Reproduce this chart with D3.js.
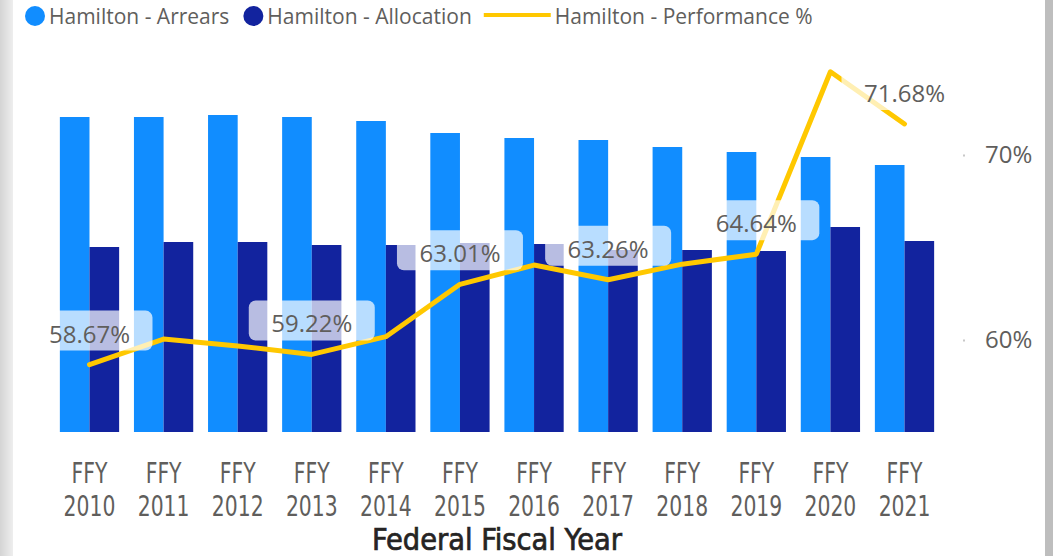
<!DOCTYPE html>
<html>
<head>
<meta charset="utf-8">
<script src="https://cdn.jsdelivr.net/npm/d3@7"></script>
<style>
  body { margin: 0; background: #fff; overflow: hidden; }
  svg text { font-family: 'Open Sans', 'Noto Sans', sans-serif; }
</style>
</head>
<body>
<svg id="chart" width="1053" height="556"></svg>
<script>
// Hamilton arrears / allocation / performance by FFY
var years = ['2010', '2011', '2012', '2013', '2014', '2015', '2016', '2017', '2018', '2019', '2020', '2021'];
var arrears = [31.5, 31.5, 31.7, 31.5, 31.1, 29.9, 29.4, 29.2, 28.5, 28.0, 27.5, 26.7];
var allocation = [18.5, 19.0, 19.0, 18.7, 18.7, 18.9, 18.8, 18.2, 18.2, 18.1, 20.5, 19.1];
var performance = [58.67, 60.05, 59.68, 59.22, 60.18, 63.01, 64.05, 63.26, 64.1, 64.64, 74.5, 71.68];
var labelledYears = ['2010', '2013', '2015', '2017', '2019', '2021'];
var perfTicks = [60, 70];
var seriesNames = ['Hamilton - Arrears', 'Hamilton - Allocation', 'Hamilton - Performance %'];
var seriesColors = ['#118dff', '#12239e', '#ffc800'];

var svg = d3.select('#chart');
var width = 1053, height = 556;
var narrowFont = "'Liberation Sans Narrow', 'DejaVu Sans Condensed', sans-serif";

// frame bits: soft shadow on the left, grey bar on the right
var defs = svg.append('defs');
var grad = defs.append('linearGradient').attr('id', 'leftShade');
grad.append('stop').attr('offset', '0%').attr('stop-color', '#d4d4d4');
grad.append('stop').attr('offset', '100%').attr('stop-color', '#eeeeee');
svg.append('rect').attr('x', 0).attr('y', 0).attr('width', 13).attr('height', height).attr('fill', 'url(#leftShade)');
svg.append('rect').attr('x', 1045).attr('y', 0).attr('width', 8).attr('height', height).attr('fill', '#bebebe');

var baseY = 432;

var x = d3.scaleBand().domain(years).range([52.45, 941.55]).paddingInner(0.2).paddingOuter(0.1);
var xSub = d3.scaleBand().domain([0, 1]).range([0, x.bandwidth()]);
var yBar = d3.scaleLinear().domain([0, 35]).range([baseY, 82]);
var yPerf = d3.scaleLinear().domain([55, 75]).range([432.5, 62.5]);

// bars
var groups = svg.append('g').selectAll('g')
  .data(years)
  .join('g')
  .attr('transform', function(d) { return 'translate(' + x(d) + ',0)'; });

groups.append('rect')
  .attr('x', xSub(0))
  .attr('width', xSub.bandwidth())
  .attr('y', function(d, i) { return yBar(arrears[i]); })
  .attr('height', function(d, i) { return baseY - yBar(arrears[i]); })
  .attr('fill', seriesColors[0]);

groups.append('rect')
  .attr('x', xSub(1))
  .attr('width', xSub.bandwidth())
  .attr('y', function(d, i) { return yBar(allocation[i]); })
  .attr('height', function(d, i) { return baseY - yBar(allocation[i]); })
  .attr('fill', seriesColors[1]);

// performance line
var cx = function(d) { return x(d) + x.bandwidth() / 2; };
var line = d3.line()
  .x(function(d, i) { return cx(years[i]); })
  .y(function(d) { return yPerf(d); });

svg.append('path')
  .datum(performance)
  .attr('d', line)
  .attr('fill', 'none')
  .attr('stroke', seriesColors[2])
  .attr('stroke-width', 5)
  .attr('stroke-linejoin', 'round')
  .attr('stroke-linecap', 'round');

// data labels with translucent boxes
var labelData = years.map(function(y, i) { return { year: y, v: performance[i] }; })
  .filter(function(d) { return labelledYears.indexOf(d.year) >= 0; });

var lbl = svg.append('g').selectAll('g')
  .data(labelData)
  .join('g')
  .attr('transform', function(d) { return 'translate(' + cx(d.year) + ',' + (yPerf(d.v) - 14) + ')'; });

lbl.append('rect')
  .attr('x', -63).attr('y', -40)
  .attr('width', 126).attr('height', 40)
  .attr('rx', 7)
  .attr('fill', '#ffffff')
  .attr('fill-opacity', 0.7);

lbl.append('text')
  .attr('text-anchor', 'middle')
  .attr('y', -8)
  .attr('fill', '#605e5c')
  .style('font-size', '24px')
  .text(function(d) { return d.v.toFixed(2) + '%'; });

// right axis
var yAxis = d3.axisRight(yPerf)
  .tickValues(perfTicks)
  .tickSize(2)
  .tickPadding(20)
  .tickFormat(function(d) { return d + '%'; });

var ya = svg.append('g').attr('transform', 'translate(963,0)').call(yAxis);
ya.select('.domain').remove();
ya.selectAll('.tick line').attr('stroke', '#c8c8c8').attr('stroke-width', 2);
ya.selectAll('.tick text')
  .attr('fill', '#605e5c')
  .style('font-size', '24px')
  .style('font-family', "'Open Sans', sans-serif");

// bottom axis, two lines per tick (narrowed to mimic DIN)
var xAxis = d3.axisBottom(x).tickSize(0).tickFormat('');
var xa = svg.append('g').attr('transform', 'translate(0,' + baseY + ')').call(xAxis);
xa.select('.domain').remove();
xa.selectAll('.tick text').remove();
var tickTxt = xa.selectAll('.tick').append('text')
  .attr('text-anchor', 'middle')
  .attr('transform', 'scale(0.78,1)')
  .attr('fill', '#605e5c')
  .style('font-family', narrowFont)
  .style('font-size', '29px');
tickTxt.append('tspan').attr('x', 0).attr('y', 51).text('FFY');
tickTxt.append('tspan').attr('x', 0).attr('y', 84).text(function(d) { return d; });

svg.append('g')
  .attr('transform', 'translate(' + (cx('2015') + 37) + ',550) scale(0.98,1)')
  .append('text')
  .attr('text-anchor', 'middle')
  .attr('fill', '#252423')
  .attr('stroke', '#252423')
  .attr('stroke-width', 0.7)
  .style('font-family', narrowFont)
  .style('font-size', '31px')
  .text('Federal Fiscal Year');

// legend
var legend = svg.append('g');
var lx = 25;
seriesNames.forEach(function(name, i) {
  if (i < 2) {
    legend.append('circle').attr('cx', lx + 10).attr('cy', 16).attr('r', 10).attr('fill', seriesColors[i]);
    lx += 24;
  } else {
    legend.append('line').attr('x1', lx).attr('x2', lx + 67).attr('y1', 15).attr('y2', 15)
      .attr('stroke', seriesColors[i]).attr('stroke-width', 4);
    lx += 71;
  }
  var t = legend.append('text')
    .attr('x', lx).attr('y', 24)
    .attr('fill', '#605e5c')
    .style('font-size', '21px')
    .text(name);
  lx += t.node().getComputedTextLength() + (i === 0 ? 14 : 12);
});
</script>
</body>
</html>
